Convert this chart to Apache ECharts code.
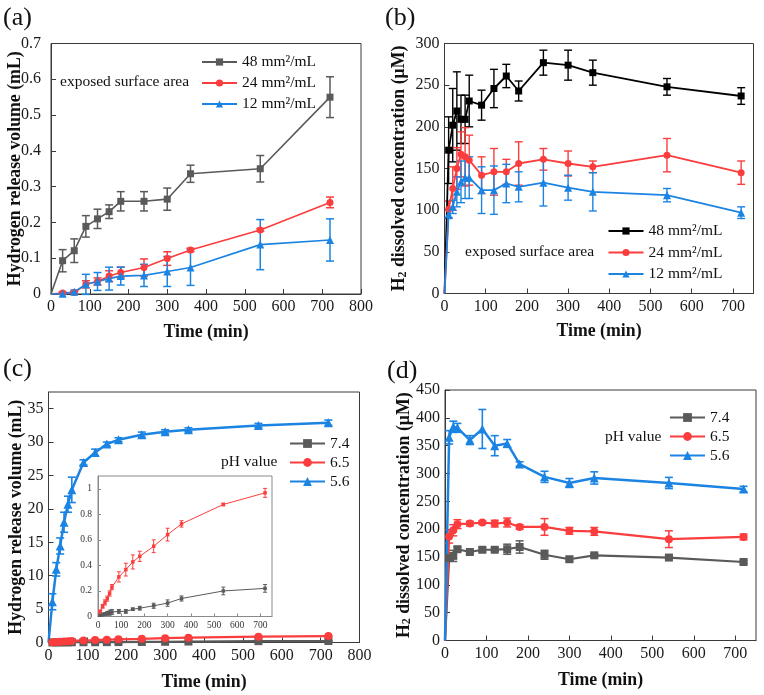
<!DOCTYPE html>
<html><head><meta charset="utf-8">
<script src="https://cdn.jsdelivr.net/npm/echarts@6/dist/echarts.min.js"></script>
<style>html,body{margin:0;padding:0;background:#fff}#c{width:764px;height:695px}</style>
</head><body><div id="c"></div>
<script>
// ---------- data ----------
const timeA = [0,30,60,90,120,150,180,240,300,360,540,720];
const a48 = [0,0.093,0.121,0.189,0.210,0.230,0.259,0.259,0.265,0.336,0.350,0.550];
const a48Err = [0,0.031,0.033,0.030,0.027,0.019,0.027,0.027,0.031,0.024,0.037,0.057];
const a24 = [0,0.003,0.004,0.027,0.035,0.050,0.060,0.074,0.099,0.123,0.179,0.256];
const a24Err = [0,0.003,0.003,0.010,0.010,0.015,0.015,0.024,0.019,0.005,0.004,0.015];
const a12 = [0,0.001,0.006,0.027,0.035,0.043,0.050,0.052,0.063,0.074,0.138,0.151];
const a12Err = [0,0.001,0.005,0.028,0.025,0.032,0.025,0.031,0.042,0.050,0.070,0.059];

const timeB = [0,10,20,30,40,50,60,90,120,150,180,240,300,360,540,720];
const b48 = [0,172,202,219,209,209,231,226,246,261,243,277,274,265,248,237];
const b48Err = [0,40,44,47,29,29,31,18,23,14,12,15,18,15,10,10];
const b24 = [0,101,126,150,167,164,160,142,146,146,156,161,156,152,166,145];
const b24Err = [0,10,26,25,27,35,30,22,28,15,26,13,15,7,20,14];
const b12 = [0,95,104,122,134,139,139,124,124,132,128,133,127,122,118,97];
const b12Err = [0,5,8,18,25,25,25,28,29,23,18,28,15,23,8,7];

const timeC = [0,10,20,30,40,50,60,90,120,150,180,240,300,360,540,720];
const c74 = [0,0.010,0.015,0.020,0.025,0.030,0.035,0.040,0.040,0.057,0.065,0.084,0.105,0.141,0.200,0.220];
const c74Err = [0,0.005,0.010,0.010,0.015,0.020,0.020,0.015,0.015,0.010,0.015,0.020,0.025,0.020,0.030,0.030];
const c65 = [0,0.04,0.08,0.11,0.14,0.18,0.23,0.31,0.367,0.427,0.471,0.55,0.641,0.725,0.877,0.968];
const c65Err = [0,0.01,0.015,0.02,0.02,0.02,0.02,0.04,0.05,0.055,0.04,0.05,0.05,0.025,0.01,0.035];
const c56 = [0,6.1,10.95,14.45,18.0,20.7,22.85,26.95,28.45,29.7,30.35,31.1,31.55,31.85,32.5,32.9];
const c56Err = [0,1.2,1.0,1.2,1.5,1.2,1.9,0.4,0.5,0.3,0.3,0.4,0.3,0.3,0.3,0.4];

const timeD = [0,10,20,30,60,90,120,150,180,240,300,360,540,720];
const d74 = [0,148,152,164,159,163,163,164,168,154,146,153,149,141];
const d74Err = [0,4,10,4,3,4,3,9,11,8,4,3,3,3];
const d65 = [0,187,198,209,210,212,210,212,204,204,197,196,182,186];
const d65Err = [0,12,10,8,4,3,6,8,4,15,6,7,15,5];
const d56 = [0,365,384,382,360,380,350,354,317,294,283,292,283,272];
const d56Err = [0,12,10,8,8,35,18,7,4,10,8,11,10,5];

const legendA = ['48 mm²/mL','24 mm²/mL','12 mm²/mL'];
const legendB = ['48 mm²/mL ','24 mm²/mL ','12 mm²/mL '];
const legendC = ['7.4','6.5','5.6'];
const legendD = ['7.4 ','6.5 ','5.6 '];

// ---------- styles ----------
const FONT = '"Liberation Serif","Times New Roman",serif';
const GRAY = '#5a5a5a', BLACK = '#000000', RED = '#fb3d3d', BLUE = '#1b84e3';
const AX = '#3a3a3a';
const NAMEFS = 17.8;

function axis(gi, min, max, interval, name, nameGap, fs, hideMax, extra) {
  return Object.assign({
    type:'value', gridIndex:gi, min, max, interval,
    axisLine:{show:true, onZero:false, lineStyle:{color:AX, width:1}},
    axisTick:{show:true, inside:true, length:5, lineStyle:{color:AX}},
    splitLine:{show:false},
    axisLabel:{fontFamily:FONT, fontSize:fs, color:'#1a1a1a', margin:5, showMaxLabel:!hideMax},
    name, nameLocation:'middle', nameGap, nameMoveOverlap:false,
    nameTextStyle:{fontFamily:FONT, fontSize:NAMEFS, fontWeight:'bold', color:'#111'}
  }, extra || {});
}

function lineS(name, gi, t, v, color, sym, size, lw) {
  return {type:'line', name, xAxisIndex:gi, yAxisIndex:gi,
    data:t.map((x,i)=>[x, v[i]]),
    symbol:sym, symbolSize:(val,p)=>p.dataIndex===0?0:size, showAllSymbol:true,
    lineStyle:{color, width:lw}, itemStyle:{color}, animation:false, z:3, clip:false};
}
function errS(gi, t, v, e, color, cap, lw) {
  return {type:'custom', xAxisIndex:gi, yAxisIndex:gi, silent:true, animation:false, z:2,
    data:t.map((x,i)=>[x, v[i]-e[i], v[i]+e[i]]),
    encode:{x:0, y:[1,2]},
    renderItem:function(params, api){
      const x = api.value(0), lo = api.value(1), hi = api.value(2);
      if (!(hi - lo > 0)) return null;
      const p1 = api.coord([x, hi]), p2 = api.coord([x, lo]);
      const h = cap/2, st = {stroke:color, lineWidth:lw};
      return {type:'group', children:[
        {type:'line', shape:{x1:p1[0],y1:p1[1],x2:p2[0],y2:p2[1]}, style:st},
        {type:'line', shape:{x1:p1[0]-h,y1:p1[1],x2:p1[0]+h,y2:p1[1]}, style:st},
        {type:'line', shape:{x1:p2[0]-h,y1:p2[1],x2:p2[0]+h,y2:p2[1]}, style:st}
      ]};
    }};
}
function legend(data, left, top, gap, ih, lh) {
  return {data, left, top, orient:'vertical', padding:0, itemGap:gap, itemWidth:35, itemHeight:ih,
    textStyle:{fontFamily:FONT, fontSize:15.5, color:'#111', lineHeight:lh}, selectedMode:false};
}
function txt(text, x, y, size) {
  return {type:'text', x, y, style:{text, font:size+'px '+FONT, fill:'#111',
    verticalAlign:'middle', textVerticalAlign:'middle'}};
}

const h2rich = {
  b:{fontFamily:FONT, fontSize:NAMEFS, fontWeight:'bold', color:'#111', lineHeight:22, verticalAlign:'bottom'},
  s:{fontFamily:FONT, fontSize:12, fontWeight:'bold', color:'#111', lineHeight:11, verticalAlign:'bottom'}
};
const h2Name = '{b|H}{s|2}{b| dissolved concentration (μM)}';

const gridBase = {show:true, borderColor:AX, borderWidth:1, backgroundColor:'transparent', containLabel:false};

const option = {
  animation:false,
  backgroundColor:'#fff',
  grid:[
    Object.assign({left:51, top:43.5, width:310, height:250.5}, gridBase),
    Object.assign({left:444.5, top:43.5, width:309, height:250}, gridBase),
    Object.assign({left:48.5, top:392, width:311, height:250.5}, gridBase),
    Object.assign({left:445, top:390, width:311, height:250.5}, gridBase),
    Object.assign({}, gridBase, {left:98, top:476, width:174, height:140.5, borderColor:'#8a8a8a', backgroundColor:'#fff'})
  ],
  xAxis:[
    axis(0, 0, 800, 100, 'Time (min)', 29, 16, false),
    axis(1, 0, 750, 100, 'Time (min)', 29, 16, true),
    axis(2, 0, 800, 100, 'Time (min)', 31, 16, false),
    axis(3, 0, 750, 100, 'Time (min)', 31, 16, true),
    axis(4, 0, 750, 100, '', 0, 9.5, true, {
      axisLine:{show:true, onZero:false, lineStyle:{color:'#8a8a8a'}},
      axisTick:{show:true, inside:true, length:3, lineStyle:{color:'#8a8a8a'}},
      axisLabel:{fontFamily:FONT, fontSize:9.5, color:'#333', margin:4, showMaxLabel:false}})
  ],
  yAxis:[
    axis(0, 0, 0.7, 0.1, 'Hydrogen release volume (mL)', 27, 16, false, {axisLabel:{fontFamily:FONT, fontSize:16, color:'#1a1a1a', margin:10}}),
    axis(1, 0, 300, 50, h2Name, 36, 16, false, {nameTextStyle:{rich:h2rich}}),
    axis(2, 0, 37.5, 5, 'Hydrogen release volume (mL)', 23.5, 16, true),
    axis(3, 0, 450, 50, h2Name, 32, 16, false, {nameTextStyle:{rich:h2rich}}),
    axis(4, 0, 1.1, 0.2, '', 0, 9.5, true, {
      axisLine:{show:true, onZero:false, lineStyle:{color:'#8a8a8a'}},
      axisTick:{show:true, inside:true, length:3, lineStyle:{color:'#8a8a8a'}},
      axisLabel:{fontFamily:FONT, fontSize:9.5, color:'#333', margin:6, showMaxLabel:false}})
  ],
  legend:[
    legend(legendA, 201, 53.5, 4, 9, 17),
    legend(legendB, 607.5, 222.5, 4.5, 9, 17),
    legend(legendC, 289, 435, 2, 11, 17),
    legend(legendD, 669, 409, 2, 11, 17)
  ],
  graphic:[
    txt('(a)', 3, 18, 26), txt('(b)', 385, 18, 26), txt('(c)', 3, 369, 26), txt('(d)', 387, 371, 26),
    txt('exposed surface area', 60, 82, 15.5),
    txt('exposed surface area', 465, 252, 15.5),
    txt('pH value', 221, 462, 15.5),
    txt('pH value', 605, 437, 15.5)
  ],
  series:[
    // (a)
    errS(0, timeA, a48, a48Err, GRAY, 8, 1.5),
    errS(0, timeA, a24, a24Err, RED, 8, 1.5),
    errS(0, timeA, a12, a12Err, BLUE, 8, 1.5),
    lineS(legendA[0], 0, timeA, a48, GRAY, 'rect', 7, 1.6),
    lineS(legendA[1], 0, timeA, a24, RED, 'circle', 7, 1.6),
    lineS(legendA[2], 0, timeA, a12, BLUE, 'triangle', 8, 1.6),
    // (b)
    errS(1, timeB, b48, b48Err, BLACK, 8, 1.4),
    errS(1, timeB, b24, b24Err, RED, 8, 1.4),
    errS(1, timeB, b12, b12Err, BLUE, 8, 1.4),
    lineS(legendB[0], 1, timeB, b48, BLACK, 'rect', 7, 1.8),
    lineS(legendB[1], 1, timeB, b24, RED, 'circle', 7, 1.8),
    lineS(legendB[2], 1, timeB, b12, BLUE, 'triangle', 8, 1.8),
    // (c)
    errS(2, timeC, c74, c74Err, GRAY, 8, 1.5),
    errS(2, timeC, c65, c65Err, RED, 8, 1.5),
    errS(2, timeC, c56, c56Err, BLUE, 8, 1.6),
    lineS(legendC[0], 2, timeC, c74, GRAY, 'rect', 8, 2.2),
    lineS(legendC[1], 2, timeC, c65, RED, 'circle', 8, 2.2),
    lineS(legendC[2], 2, timeC, c56, BLUE, 'triangle', 9, 2.5),
    // (d)
    errS(3, timeD, d74, d74Err, GRAY, 8, 1.5),
    errS(3, timeD, d65, d65Err, RED, 8, 1.5),
    errS(3, timeD, d56, d56Err, BLUE, 8, 1.6),
    lineS(legendD[0], 3, timeD, d74, GRAY, 'rect', 8, 2.2),
    lineS(legendD[1], 3, timeD, d65, RED, 'circle', 8, 2.2),
    lineS(legendD[2], 3, timeD, d56, BLUE, 'triangle', 9, 2.5),
    // inset
    errS(4, timeC, c74, c74Err, GRAY, 4, 1),
    errS(4, timeC, c65, c65Err, RED, 4, 1),
    lineS('inset 7.4', 4, timeC, c74, GRAY, 'rect', 3.5, 1),
    lineS('inset 6.5', 4, timeC, c65, RED, 'rect', 3.5, 1)
  ]
};

const chart = echarts.init(document.getElementById('c'), null, {renderer:'canvas'});
chart.setOption(option);
</script>
</body></html>
